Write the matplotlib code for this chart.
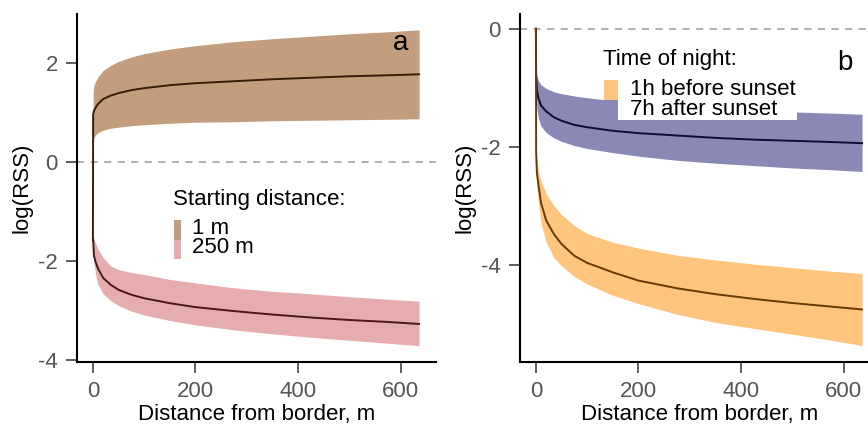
import matplotlib
matplotlib.use("Agg")
import matplotlib.pyplot as plt
from matplotlib.patches import Rectangle

plt.rcParams['font.family'] = ['Liberation Sans', 'DejaVu Sans']
plt.rcParams['axes.unicode_minus'] = False

# distance from border (m) at which the curves were read
dist = [0.5, 2, 5, 10, 20, 35, 50, 75, 100, 150, 200, 275, 350, 425, 500, 575, 636]

# panel a: starting distance 1 m
start1_mean = [0.96, 1.03, 1.09, 1.17, 1.27, 1.34, 1.39, 1.45, 1.49, 1.55, 1.59, 1.63, 1.67, 1.70, 1.73, 1.75, 1.77]
start1_high = [1.42, 1.54, 1.62, 1.72, 1.85, 1.95, 2.03, 2.12, 2.19, 2.28, 2.35, 2.43, 2.49, 2.54, 2.59, 2.63, 2.67]
start1_low = [0.44, 0.49, 0.54, 0.59, 0.64, 0.68, 0.70, 0.73, 0.75, 0.78, 0.80, 0.81, 0.83, 0.84, 0.85, 0.86, 0.87]
start1_at_border = -1.6

# panel a: starting distance 250 m
start250_mean = [-1.57, -1.90, -2.02, -2.16, -2.35, -2.49, -2.59, -2.69, -2.76, -2.86, -2.94, -3.02, -3.09, -3.15, -3.20, -3.24, -3.28]
start250_high = [-1.47, -1.57, -1.64, -1.77, -1.94, -2.11, -2.18, -2.24, -2.28, -2.38, -2.45, -2.55, -2.62, -2.67, -2.73, -2.78, -2.82]
start250_low = [-1.62, -2.02, -2.28, -2.48, -2.67, -2.81, -2.91, -3.02, -3.10, -3.21, -3.30, -3.40, -3.48, -3.55, -3.61, -3.67, -3.72]

# panel b: 1h before sunset
before_mean = [-2.10, -2.45, -2.65, -2.95, -3.25, -3.48, -3.65, -3.85, -3.97, -4.13, -4.27, -4.40, -4.50, -4.58, -4.65, -4.71, -4.76]
before_high = [-2.15, -2.25, -2.40, -2.58, -2.80, -3.00, -3.15, -3.34, -3.47, -3.62, -3.72, -3.84, -3.92, -3.99, -4.05, -4.11, -4.15]
before_low = [-2.25, -2.70, -2.95, -3.30, -3.62, -3.88, -4.02, -4.20, -4.33, -4.52, -4.66, -4.84, -4.98, -5.08, -5.18, -5.28, -5.37]
before_at_border = 0.0

# panel b: 7h after sunset
after_mean = [-0.80, -1.05, -1.18, -1.30, -1.40, -1.50, -1.56, -1.63, -1.67, -1.73, -1.77, -1.81, -1.85, -1.88, -1.90, -1.92, -1.94]
after_high = [-0.72, -0.80, -0.88, -0.95, -1.01, -1.07, -1.10, -1.14, -1.17, -1.22, -1.26, -1.31, -1.35, -1.38, -1.41, -1.43, -1.45]
after_low = [-0.90, -1.35, -1.52, -1.65, -1.76, -1.85, -1.91, -1.98, -2.03, -2.10, -2.16, -2.23, -2.28, -2.32, -2.36, -2.39, -2.42]
after_at_border = 0.0

FS = 16


def style_axes(ax, yticks, ylim):
    ax.set_xlim(-31, 669)
    ax.set_ylim(*ylim)
    ax.set_xticks([0, 200, 400, 600])
    ax.set_yticks(yticks)
    for s in ["top", "right"]:
        ax.spines[s].set_visible(False)
    for s in ["left", "bottom"]:
        ax.spines[s].set_linewidth(1.5)
    ax.tick_params(length=7.8, width=1.1, color="#333333", labelcolor="#555555",
                   labelsize=FS, pad=6)
    ax.axhline(0, color="#aaaaaa", lw=1.3, ls=(0, (4, 3.5)), zorder=1)
    ax.set_xlabel("Distance from border, m", fontsize=FS, labelpad=1)
    ax.set_ylabel("log(RSS)", fontsize=FS)
    ax.yaxis.set_label_coords(-0.125, 0.5)


def band(ax, low, high, mean, fill, line, border=None):
    ax.fill_between(dist, low, high, color=fill, lw=0, zorder=2)
    xs, ys = dist, mean
    if border is not None:
        xs, ys = [0] + dist, [border] + mean
    ax.plot(xs, ys, color=line, lw=1.4, zorder=3)


def key(ax, x, y, title, items, w, h, tx):
    ax.text(x, y, title, transform=ax.transAxes, fontsize=FS, ha="left", va="baseline", zorder=8)
    for i, (color, label) in enumerate(items):
        top = y - 0.043 - i * h
        ax.add_patch(Rectangle((x + 0.003, top - h), w, h, transform=ax.transAxes,
                               facecolor=color, edgecolor="none", zorder=7))
        ax.text(tx, top - h + 0.016, label, transform=ax.transAxes, fontsize=FS,
                ha="left", va="baseline", zorder=8)


fig = plt.figure(figsize=(8.68, 4.26), dpi=100)
ax_a = fig.add_axes([77 / 868, 64 / 426, 359 / 868, 348 / 426])
ax_b = fig.add_axes([520 / 868, 64 / 426, 359 / 868, 348 / 426])

# panel a
band(ax_a, start1_low, start1_high, start1_mean, "#c29e7e", "#3a1d08", border=start1_at_border)
band(ax_a, start250_low, start250_high, start250_mean, "#e5adad", "#4a1818")
style_axes(ax_a, [-4, -2, 0, 2], (-4.05, 2.99))
key(ax_a, 0.267, 0.451, "Starting distance:",
    [("#c29e7e", "1 m"), ("#e5adad", "250 m")], 0.02, 0.056, 0.32)
ax_a.text(0.9025, 0.897, "a", transform=ax_a.transAxes, fontsize=20, ha="center", va="baseline")

# panel b
band(ax_b, after_low, after_high, after_mean, "#8a89b5", "#0d0d33", border=after_at_border)
band(ax_b, before_low, before_high, before_mean, "#ffc47d", "#6a3a05", border=before_at_border)
style_axes(ax_b, [-4, -2, 0], (-5.65, 0.25))
# white backing behind the key, covering the band
ax_b.add_patch(Rectangle((0.234, 0.6954), 0.5376, 0.23, transform=ax_b.transAxes,
                         facecolor="white", edgecolor="none", zorder=4))
key(ax_b, 0.231, 0.853, "Time of night:",
    [("#ffc47d", "1h before sunset"), ("#8a89b5", "7h after sunset")], 0.039, 0.0575, 0.306)
ax_b.text(0.905, 0.839, "b", transform=ax_b.transAxes, fontsize=20, ha="center", va="baseline")

fig.savefig("out.png", dpi=100)
